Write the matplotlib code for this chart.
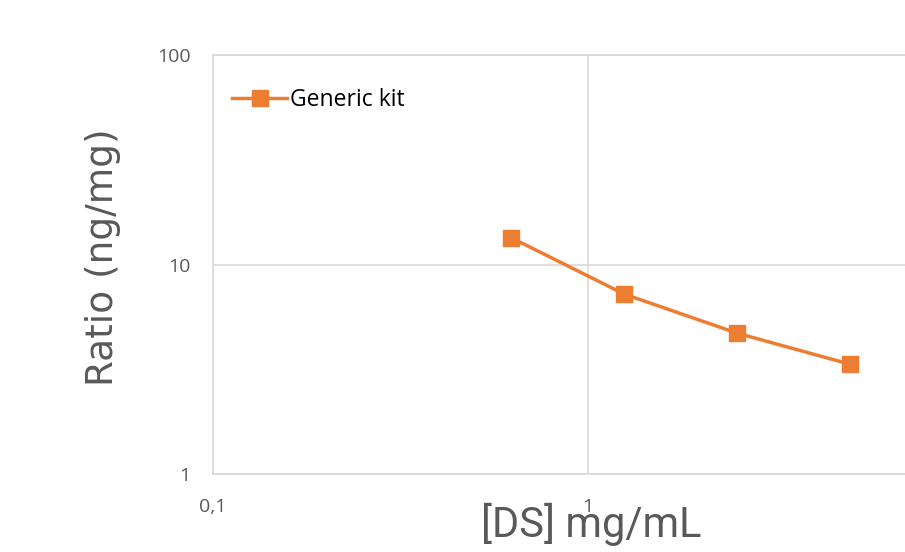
import matplotlib
matplotlib.use("Agg")
import numpy as np
from matplotlib import pyplot as plt
from matplotlib.ticker import FixedLocator, FuncFormatter, NullLocator

# valeurs
conc = [0.625, 1.25, 2.5, 5.0]
ratio = [13.4, 7.22, 4.7, 3.34]
x_ticks = [0.1, 1]
y_ticks = [1, 10, 100]
serie = "Generic kit"

orange = "#ED7D31"
grid_col = "#D9D9D9"
txt_col = "#595959"

fig = plt.figure(figsize=(9.05, 5.52), dpi=100)
ax = fig.add_axes([213 / 905, 1 - 474 / 552, 750 / 905, 419 / 552])

ax.plot(conc, ratio, color=orange, lw=2.5, marker="s", ms=12,
        mec=orange, mfc=orange, label=serie, clip_on=False)

ax.set_xscale("log")
ax.set_yscale("log")
ax.set_xlim(0.1, 10)
ax.set_ylim(1, 100)

def virgule(v, pos):
    return ("%g" % v).replace(".", ",")

ax.xaxis.set_major_locator(FixedLocator(x_ticks))
ax.yaxis.set_major_locator(FixedLocator(y_ticks))
ax.xaxis.set_minor_locator(NullLocator())
ax.yaxis.set_minor_locator(NullLocator())
ax.xaxis.set_major_formatter(FuncFormatter(virgule))
ax.yaxis.set_major_formatter(FuncFormatter(virgule))

ax.grid(True, color=grid_col, lw=1.2)
ax.set_axisbelow(True)
for s in ax.spines.values():
    s.set_color(grid_col)
    s.set_linewidth(1.2)

ax.tick_params(axis="x", length=0, pad=17, labelsize=14, labelcolor=txt_col)
ax.tick_params(axis="y", length=0, pad=16, labelsize=14, labelcolor=txt_col)
for lab in ax.get_xticklabels() + ax.get_yticklabels():
    lab.set_fontfamily("Open Sans")

ax.set_xlabel("[DS] mg/mL", fontsize=30, color=txt_col, fontfamily="Roboto")
ax.xaxis.set_label_coords(378 / 750, -63 / 419)
ax.xaxis.label.set_va("baseline")
ax.set_ylabel("Ratio (ng/mg)", fontsize=27, color=txt_col,
              fontfamily="DejaVu Sans")
ax.yaxis.set_label_coords(-110 / 750, 0.5167)
ax.yaxis.label.set_va("center")

leg = ax.legend(loc="center left", bbox_to_anchor=(19 / 750, 1 - 45 / 419),
                frameon=False, borderpad=0, borderaxespad=0,
                handlelength=2.4, handletextpad=0.12,
                prop={"family": "Open Sans", "size": 16.5})
for t in leg.get_texts():
    t.set_color("black")

fig.savefig("out.png", dpi=100)
